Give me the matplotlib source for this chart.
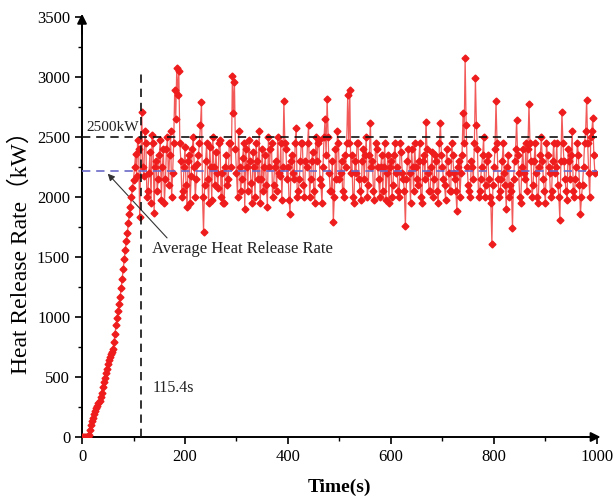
import numpy as np
import matplotlib
matplotlib.use("Agg")
import matplotlib.pyplot as plt

plt.rcParams['font.family'] = ['Liberation Serif', 'Noto Sans CJK SC']

# ---- data ----
t_ramp = [0, 2, 4, 6, 8, 10, 12, 14, 16, 18, 20, 22, 24, 26, 28, 30, 32, 34, 36, 38,
          40, 42, 44, 46, 48, 50, 52, 54, 56, 58, 60, 62, 64, 66, 68, 70, 72, 74, 76, 78,
          80, 82, 84, 86, 88, 90, 92, 94, 96, 98, 100, 102, 104, 106, 108, 110, 112]
hrr_ramp = [0, 0, 0, 0, 0, 0, 0, 20, 60, 100, 130, 160, 190, 220, 240, 260, 280, 300, 330, 370,
            420, 460, 490, 530, 570, 610, 640, 670, 690, 710, 730, 790, 860, 930, 990, 1050, 1110, 1170, 1240, 1320,
            1400, 1480, 1560, 1630, 1700, 1780, 1860, 1920, 2000, 2080, 2140, 2250, 2360, 2180, 2480, 2400, 1830]

# steady stage, samples at t = 116, 120, 124, ... (set A) and t = 118, 122, 126, ... (set B)
hrr_steady_a = [
    2710, 2180, 2450, 2050, 2380, 2520, 1870, 2300, 2150, 2480, 2250, 1950, 2400, 2100, 2550, 2200, 2890, 3080, 3050, 2300,
    2050, 2420, 1920, 2350, 2180, 2500, 2000, 2280, 2450, 2790, 1710, 2300, 2150, 2420, 1980, 2250, 2380, 2080, 2480, 2200,
    1950, 2350, 2150, 2450, 3010, 2960, 2200, 2550, 2050, 2330, 1900, 2250, 2480, 2120, 2380, 2000, 2300, 2550, 2150, 2050,
    2350, 1920, 2250, 2450, 2100, 2300, 2500, 2180, 1980, 2800, 2400, 2250, 1860, 2350, 2150, 2580, 2050, 2300, 2450, 2000,
    2250, 2600, 2150, 2380, 1950, 2300, 2480, 2100, 2250, 2650, 2820, 2200, 2050, 1790, 2400, 2550, 2150, 2300, 2000, 2250,
    2850, 2890, 2350, 1950, 2200, 2450, 2050, 2300, 2150, 2500, 2100, 2620, 2300, 1980, 2400, 2150, 2250, 2050, 2450, 2200,
    1950, 2300, 2100, 2450, 2250, 2000, 2380, 2150, 1760, 2300, 2200, 2400, 2050, 2250, 2100, 2450, 1950, 2350, 2630, 2200,
    2050, 2380, 2150, 2300, 1950, 2620, 2250, 2100, 2400, 2200, 2050, 2350, 2150, 1880, 2300, 2200, 2700, 3160, 2250, 2050,
    2300, 2150, 2990, 2400, 2050, 2250, 2500, 2100, 2350, 2000, 1610, 2250, 2800, 2150, 2050, 2300, 2200, 1900, 2350, 2100,
    1740, 2300, 2640, 2200, 1950, 2400, 2150, 2050, 2780, 2300, 2100, 2450, 2000, 2250, 2500, 2150, 1950, 2350, 2200, 2050,
    2450, 2250, 2100, 1810, 2710, 2300, 2050, 2400, 2150, 2550, 2000, 2250, 2350, 1860, 2100, 2450, 2810, 2200, 2500, 2660, 2200,
]
hrr_steady_b = [
    2250, 2550, 2000, 2200, 1950, 2450, 2250, 2050, 2350, 1980, 2400, 2150, 2500, 2350, 2000, 2450, 2650, 2850, 2450, 2000,
    2250, 2100, 2300, 1950, 2400, 2250, 2150, 2350, 2600, 2000, 2100, 2450, 1950, 2250, 2500, 2100, 2200, 2450, 2000, 1950,
    2250, 2100, 2450, 2250, 2700, 2400, 2000, 2250, 2150, 2450, 2400, 2050, 2300, 1950, 2250, 2450, 2150, 1950, 2400, 2250,
    2100, 2500, 2400, 2000, 2250, 2050, 2200, 2450, 2250, 2450, 2150, 1980, 2300, 2200, 2450, 2000, 2150, 2450, 2100, 2300,
    2450, 2000, 2300, 2050, 2500, 2450, 2150, 1950, 2500, 2350, 2500, 2050, 2300, 2000, 2150, 2450, 2200, 2050, 2350, 2450,
    2450, 2200, 2000, 2300, 2450, 2150, 1980, 2400, 2350, 2000, 2350, 2250, 2050, 2450, 2250, 2000, 2350, 2250, 1980, 2350,
    2250, 2000, 2350, 2200, 2050, 2450, 2200, 2050, 2150, 2400, 1950, 2250, 2450, 2150, 2300, 2000, 2300, 2150, 2400, 2050,
    2250, 2000, 2350, 2050, 2450, 2350, 2150, 1980, 2300, 2050, 2450, 2200, 2050, 2250, 2000, 2350, 2450, 2600, 2100, 2000,
    2250, 2450, 2600, 2000, 2150, 2350, 2000, 2300, 2150, 1950, 2100, 2400, 2450, 2000, 2150, 2450, 2100, 2250, 2000, 2050,
    2150, 2400, 2350, 2000, 2250, 2200, 2450, 2400, 2450, 2000, 2300, 2200, 1950, 2350, 2300, 2050, 2450, 2250, 2000, 2300,
    2200, 2450, 2000, 2300, 2450, 2150, 1980, 2300, 2350, 2050, 2150, 2450, 2100, 2000, 2250, 2550, 2450, 2000, 2550, 2350,
]
t_steady_a = 116 + 4 * np.arange(len(hrr_steady_a))
t_steady_b = 118 + 4 * np.arange(len(hrr_steady_b))

t_all = np.concatenate([t_ramp, t_steady_a, t_steady_b])
hrr_all = np.concatenate([hrr_ramp, hrr_steady_a, hrr_steady_b])
order = np.argsort(t_all, kind='stable')
t_all, hrr_all = t_all[order], hrr_all[order]

target_hrr = 2500
avg_hrr = 2215
t_reach = 115.4

# ---- figure ----
fig = plt.figure(figsize=(6.13, 4.98), dpi=100)
ax = fig.add_axes([0.1338, 0.1225, 0.840, 0.843])

ax.plot(t_all, hrr_all, color='#f25a5a', lw=0.9, zorder=3)
ax.plot(t_all, hrr_all, ls='none', marker='D', ms=3.5, color='#ee1c1c', zorder=4)

ax.plot([0, 1000], [target_hrr, target_hrr], ls=(0, (5, 3.5)), color='#111111', lw=1.2, zorder=5)
ax.plot([0, 1000], [avg_hrr, avg_hrr], ls=(0, (5, 3.5)), color='#6a6ac8', lw=1.2, zorder=5)
ax.plot([t_reach, t_reach], [0, 3040], ls=(0, (5, 3.5)), color='#111111', lw=1.2, zorder=5)

ax.text(8, 2530, '2500kW', fontsize=11, ha='left', va='bottom', color='#222222')
ax.text(138, 405, '115.4s', fontsize=11.5, ha='left', va='center', color='#222222')
ax.annotate('Average Heat Release Rate', xy=(50, 2195), xytext=(135, 1570),
            fontsize=12, ha='left', va='center', color='#222222',
            arrowprops=dict(arrowstyle='-|>', color='#333333', lw=0.8,
                            mutation_scale=10, shrinkA=0, shrinkB=0,
                            relpos=(0.1, 1.0)))

ax.set_xlim(0, 1000)
ax.set_ylim(0, 3500)
ax.set_xticks(np.arange(0, 1001, 200))
ax.set_xticks(np.arange(100, 1000, 200), minor=True)
ax.set_yticks(np.arange(0, 3501, 500))
ax.set_yticks(np.arange(250, 3500, 500), minor=True)
ax.tick_params(axis='both', which='major', length=5, width=1.2, labelsize=12, direction='out')
ax.tick_params(axis='both', which='minor', length=3, width=1.0, direction='out')

for s in ['top', 'right']:
    ax.spines[s].set_visible(False)
for s in ['left', 'bottom']:
    ax.spines[s].set_linewidth(1.4)

ax.annotate('', xy=(1.007, 0), xytext=(0.97, 0), xycoords='axes fraction',
            arrowprops=dict(arrowstyle='-|>', color='k', lw=1.4, mutation_scale=14, shrinkA=0, shrinkB=0))
ax.annotate('', xy=(0, 1.008), xytext=(0, 0.96), xycoords='axes fraction',
            arrowprops=dict(arrowstyle='-|>', color='k', lw=1.4, mutation_scale=14, shrinkA=0, shrinkB=0))

ax.set_xlabel('Time(s)', fontsize=14, fontweight='bold', labelpad=10)
ax.set_ylabel('Heat Release Rate（kW）', fontsize=17, labelpad=4)
ax.yaxis.set_label_coords(-0.097, 0.452)

fig.savefig('out.png', dpi=100)
